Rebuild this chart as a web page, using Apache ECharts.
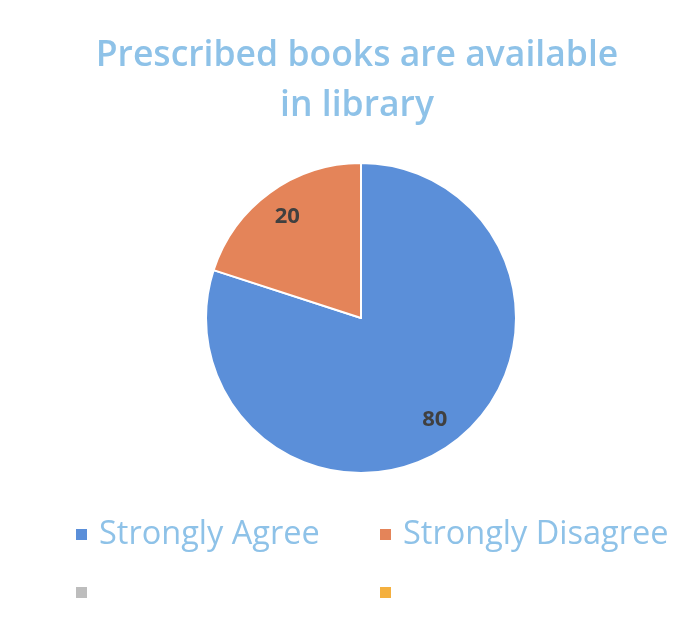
<!DOCTYPE html>
<html><head><meta charset="utf-8">
<script src="https://cdn.jsdelivr.net/npm/echarts@6/dist/echarts.min.js"></script>
<style>html,body{margin:0;padding:0;background:#fff}#c{width:697px;height:629px}</style>
</head><body><div id="c"></div>
<script>
const titleText = 'Prescribed books are available\nin library';
const categories = ['Strongly Agree', 'Strongly Disagree', ' ', '  '];
const values = [80, 20, 0, 0];
const colors = ['#5b8fd9', '#e48459', '#bdbdbd', '#f4b03f'];

const chart = echarts.init(document.getElementById('c'));
const textColor = '#8ec2e8';
const legendPos = [[69, 513], [373, 513], [69, 571], [373, 571]];
const data = categories.map((n, i) => ({ name: n, value: values[i], itemStyle: { color: colors[i] } }));
chart.setOption({
  backgroundColor: '#fff',
  title: {
    text: titleText, left: 352, textAlign: 'center', top: 26,
    textStyle: { color: textColor, fontFamily: 'Open Sans', fontWeight: 600, fontSize: 35.5, lineHeight: 50 }
  },
  legend: categories.map((n, i) => ({
    data: [n], left: legendPos[i][0], top: legendPos[i][1], icon: 'rect', itemWidth: 13, itemHeight: 13, itemGap: 8,
    selectedMode: false,
    textStyle: { color: textColor, fontFamily: 'Open Sans', fontSize: 32.5, padding: [0, 0, 0, 6] }
  })),
  series: [
    {
      type: 'pie', center: [361, 318], radius: [0, 155], startAngle: 90, clockwise: true,
      label: { show: false }, labelLine: { show: false }, silent: true,
      itemStyle: { borderColor: '#fff', borderWidth: 2 },
      data: data
    },
    {
      type: 'pie', center: [361, 318], radius: [90, 155], startAngle: 90, clockwise: true,
      silent: true, labelLine: { show: false },
      itemStyle: { color: 'rgba(0,0,0,0)' },
      label: {
        show: true, position: 'inside', color: '#404040', fontFamily: 'Open Sans', fontWeight: 'bold', fontSize: 22,
        formatter: p => p.value > 0 ? String(p.value) : ''
      },
      data: categories.map((n, i) => ({ name: n, value: values[i] }))
    }
  ]
});
</script></body></html>
